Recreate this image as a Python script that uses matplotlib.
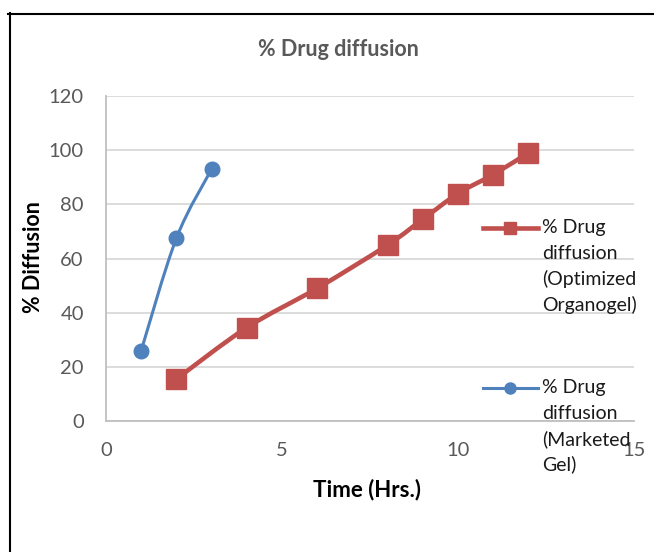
import numpy as np
import matplotlib
matplotlib.use('Agg')
import matplotlib.pyplot as plt
from matplotlib.path import Path
from matplotlib.patches import PathPatch
from matplotlib.lines import Line2D

plt.rcParams['font.family'] = ['Lato', 'DejaVu Sans']

# data
time_org = [2, 4, 6, 8, 9, 10, 11, 12]
diff_org = [15.5, 34.5, 49, 65, 74.5, 84, 91, 99]
time_mkt = [1, 2, 3]
diff_mkt = [26, 67.5, 93]

label_org = ['% Drug', 'diffusion', '(Optimized', 'Organogel)']
label_mkt = ['% Drug', 'diffusion', '(Marketed', 'Gel)']

red = '#C0504D'
blue = '#4F81BD'
grey = '#595959'

W, H = 654, 552


def fx(px):
    return px / W


def fy(py):
    return 1 - py / H


# excel style smoothed line (bezier through the points)
def smooth_path(x, y):
    pts = np.column_stack([x, y]).astype(float)
    n = len(pts)
    verts = [pts[0]]
    codes = [Path.MOVETO]
    for i in range(n - 1):
        p0 = pts[i - 1] if i > 0 else pts[i]
        p3 = pts[i + 2] if i + 2 < n else pts[i + 1]
        c1 = pts[i] + (pts[i + 1] - p0) / 6
        c2 = pts[i + 1] - (p3 - pts[i]) / 6
        verts += [c1, c2, pts[i + 1]]
        codes += [Path.CURVE4] * 3
    return Path(verts, codes)


fig = plt.figure(figsize=(6.54, 5.52), dpi=100)
ax = fig.add_axes([fx(106), fy(421), fx(528), 325 / H])

ax.set_xlim(0, 15)
ax.set_ylim(0, 120)
ax.set_xticks([0, 5, 10, 15])
ax.set_yticks(range(0, 121, 20))
ax.tick_params(length=0, labelsize=14.5, colors=grey)
ax.tick_params(axis='y', pad=16)
ax.tick_params(axis='x', pad=15)
ax.yaxis.grid(True, color='#D9D9D9', lw=1.3)
ax.set_axisbelow(True)
for s in ['top', 'right']:
    ax.spines[s].set_visible(False)
for s in ['left', 'bottom']:
    ax.spines[s].set_color('#BFBFBF')
    ax.spines[s].set_linewidth(1.3)

ax.add_patch(PathPatch(smooth_path(time_org, diff_org), fill=False,
                       ec=red, lw=3.3, zorder=3))
ax.plot(time_org, diff_org, 's', ms=14.5, color=red, zorder=4, clip_on=False)
ax.add_patch(PathPatch(smooth_path(time_mkt, diff_mkt), fill=False,
                       ec=blue, lw=2.2, zorder=3))
ax.plot(time_mkt, diff_mkt, 'o', ms=10.5, color=blue, zorder=4, clip_on=False)

fig.text(fx(338), fy(50), '% Drug diffusion', ha='center', va='center',
         fontsize=15.5, fontweight='bold', color=grey)
fig.text(fx(33), fy(257), '% Diffusion', ha='center', va='center',
         rotation=90, fontsize=15.5, fontweight='bold', color='black')
fig.text(fx(367), fy(490), 'Time (Hrs.)', ha='center', va='center',
         fontsize=16, fontweight='bold', color='black')

# legend drawn by hand, excel style
for col, y0, lines, mk, ms, lw in [(red, 227.5, label_org, 's', 9, 3.3),
                                   (blue, 387.5, label_mkt, 'o', 8, 2.2)]:
    fig.add_artist(Line2D([fx(483), fx(510), fx(538)], [fy(y0)] * 3,
                          color=col, lw=lw, marker=mk, ms=ms, markevery=[1]))
    for k, t in enumerate(lines):
        fig.text(fx(542), fy(y0 + k * 25.7), t, ha='left', va='center',
                 fontsize=14, color='#1a1a1a')

# chart border (top and left only visible)
fig.add_artist(Line2D([fx(8), 1], [fy(13.5)] * 2, color='black', lw=1.5))
fig.add_artist(Line2D([fx(9.5)] * 2, [0, fy(13)], color='black', lw=1.5))

fig.savefig('out.png', dpi=100)
